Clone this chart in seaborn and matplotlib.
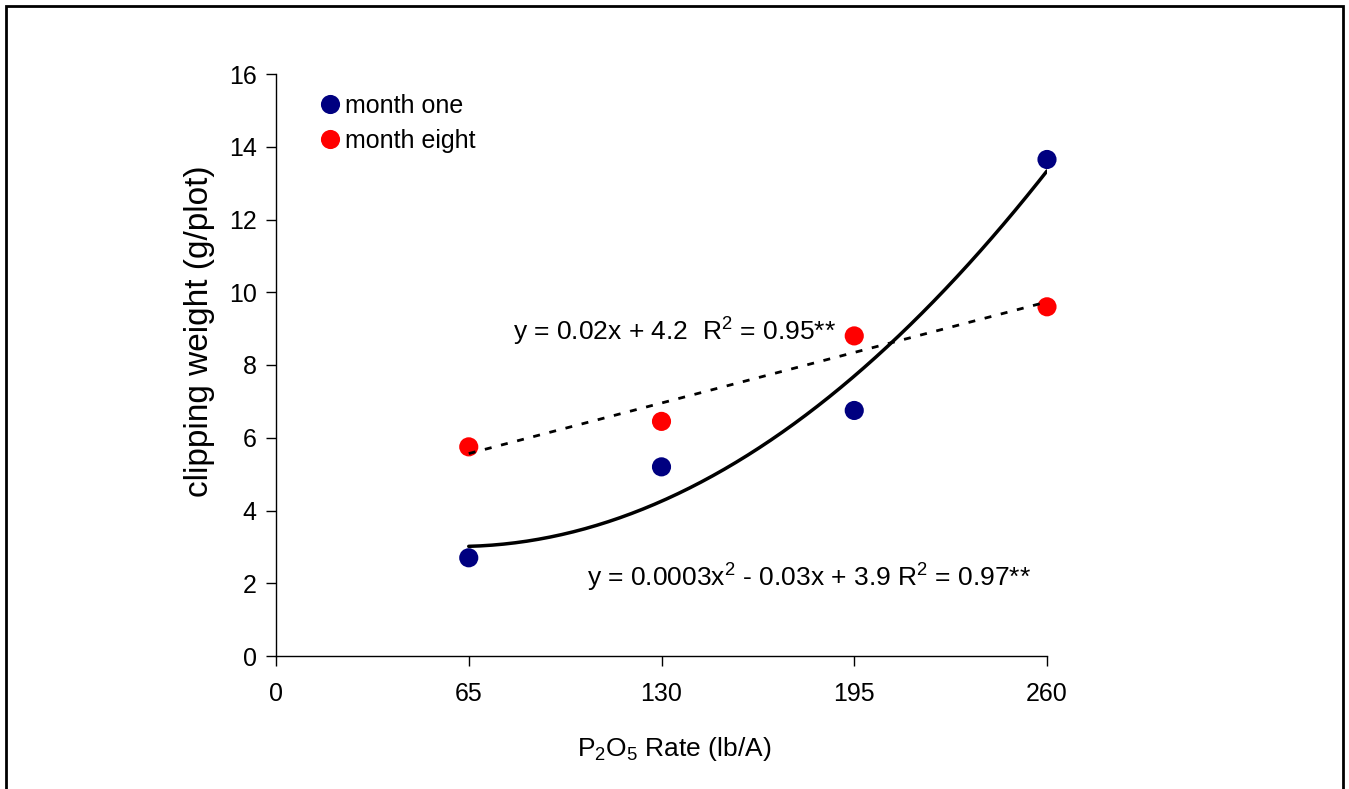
import matplotlib
matplotlib.use('Agg')
import matplotlib.pyplot as plt
import seaborn as sns
import pandas as pd
import numpy as np
from matplotlib.patches import Rectangle

# data
rates = [65, 130, 195, 260]
month_one = [2.7, 5.2, 6.75, 13.65]
month_eight = [5.75, 6.45, 8.8, 9.6]
xticks = [0, 65, 130, 195, 260]
yticks = [0, 2, 4, 6, 8, 10, 12, 14, 16]

df = pd.DataFrame({
    'rate': rates * 2,
    'weight': month_one + month_eight,
    'series': ['month one'] * 4 + ['month eight'] * 4,
})

sns.set_style('white')
plt.rcParams['font.family'] = ['Liberation Sans', 'DejaVu Sans']
plt.rcParams['mathtext.fontset'] = 'custom'
plt.rcParams['mathtext.rm'] = 'Liberation Sans'
plt.rcParams['mathtext.it'] = 'Liberation Sans'
plt.rcParams['text.color'] = 'black'
plt.rcParams['axes.labelcolor'] = 'black'
plt.rcParams['xtick.color'] = 'black'
plt.rcParams['ytick.color'] = 'black'

fig = plt.figure(figsize=(13.49, 7.89), dpi=100)
ax = fig.add_axes([276 / 1349, 1 - 656 / 789, 771 / 1349, 582 / 789])

# trend lines
xs = np.linspace(65, 260, 200)
quad = np.polyfit(rates, month_one, 2)
lin = np.polyfit(rates, month_eight, 1)
sns.lineplot(x=xs, y=np.polyval(quad, xs), color='black', lw=2.5, ax=ax, zorder=3)
ax.plot(xs, np.polyval(lin, xs), color='black', lw=2, dashes=(2.5, 3.5), zorder=3)

sns.scatterplot(data=df, x='rate', y='weight', hue='series',
                palette={'month one': '#000080', 'month eight': '#FF0000'},
                s=190, edgecolor='none', ax=ax, zorder=2, clip_on=False)

ax.set_xlim(0, 260)
ax.set_ylim(0, 16)
ax.set_xticks(xticks)
ax.set_yticks(yticks)
ax.tick_params(axis='both', direction='out', length=7, width=1, labelsize=18,
               left=True, bottom=True)
ax.tick_params(axis='x', pad=12)
ax.tick_params(axis='y', pad=7)
for s in ['top', 'right']:
    ax.spines[s].set_visible(False)
for s in ['left', 'bottom']:
    ax.spines[s].set_color('black')
    ax.spines[s].set_linewidth(1)

ax.set_xlabel(r'P$_2$O$_5$ Rate (lb/A)', fontsize=19, labelpad=18)
ax.set_ylabel('clipping weight (g/plot)', fontsize=24, labelpad=10)
ax.xaxis.set_label_coords(0.517, -0.135)
ax.yaxis.label.set_y(0.558)

ax.text(80, 8.9, r'y = 0.02x + 4.2  R$^2$ = 0.95**', fontsize=19, va='center')
ax.text(105, 2.15, r'y = 0.0003x$^2$ - 0.03x + 3.9 R$^2$ = 0.97**', fontsize=19, va='center')

leg = ax.legend(loc='upper left', bbox_to_anchor=(0.028, 1.005), frameon=False,
                fontsize=18, handlelength=0.8, handletextpad=0.2, labelspacing=0.45)

fig.patches.append(Rectangle((6 / 1349, -0.05), 1337 / 1349, 1.05 - 6 / 789,
                             transform=fig.transFigure, fill=False,
                             edgecolor='black', lw=2, clip_on=False))

plt.savefig('out.png', dpi=100)
plt.close()
